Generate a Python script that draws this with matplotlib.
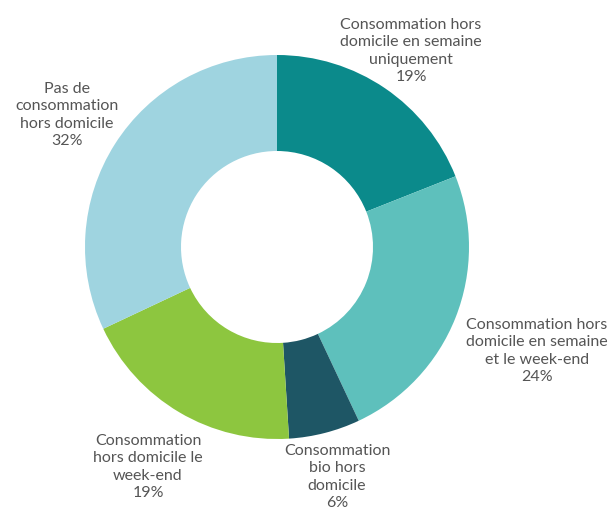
import matplotlib

matplotlib.use("Agg")
import matplotlib.pyplot as plt

labels = [
    "Consommation hors\ndomicile en semaine\nuniquement\n19%",
    "Consommation hors\ndomicile en semaine\net le week-end\n24%",
    "Consommation\nbio hors\ndomicile\n6%",
    "Consommation\nhors domicile le\nweek-end\n19%",
    "Pas de\nconsommation\nhors domicile\n32%",
]
shares = [19, 24, 6, 19, 32]
colors = ["#0b8a8b", "#5ec0bc", "#1e5665", "#8dc63f", "#9fd4e0"]

# label anchor points in pixel space (x from left, y from top)
label_pos = [(411, 51), (537, 351), (337, 477), (148, 467), (67, 115)]

W, H = 610, 513
fig = plt.figure(figsize=(W / 100, H / 100), dpi=100)
ax = fig.add_axes([0, 0, 1, 1])

cx, cy, r = 277, H - 247, 192
ax.pie(
    shares,
    colors=colors,
    startangle=90,
    counterclock=False,
    center=(cx, cy),
    radius=r,
    wedgeprops=dict(width=r * 0.5, linewidth=0),
    frame=True,
)
ax.set_xlim(0, W)
ax.set_ylim(0, H)
ax.axis("off")

for text, (x, y) in zip(labels, label_pos):
    ax.text(x, H - y, text, ha="center", va="center", fontsize=11.5,
            family="Lato", color="#555555", linespacing=1.3)

fig.savefig("out.png", dpi=100)
